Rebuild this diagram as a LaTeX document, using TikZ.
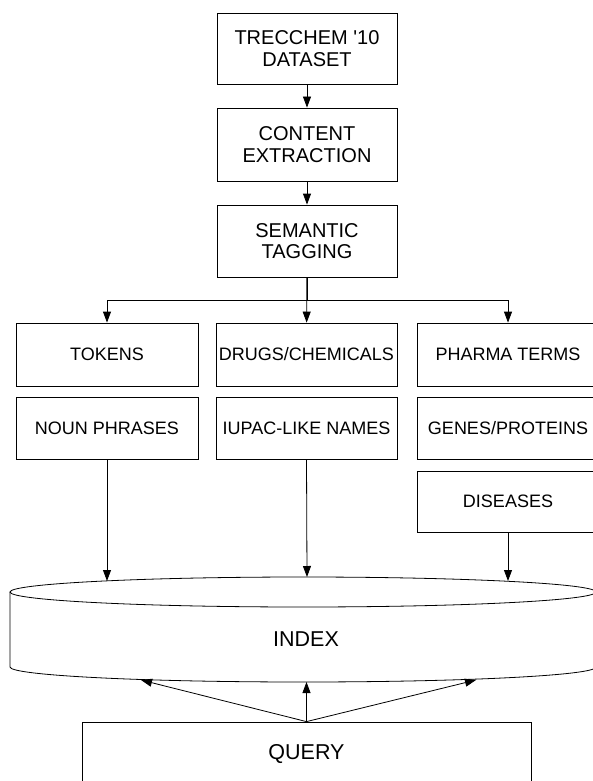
\documentclass[tikz,border=0pt]{standalone}
\usepackage{fontspec}
\setmainfont{Liberation Sans}
\usetikzlibrary{arrows.meta}

\begin{document}
\begin{tikzpicture}[x=1pt,y=-1pt,
    box/.style={draw,line width=0.8pt,inner sep=1pt,align=center,
      font=\fontsize{18}{21.5}\selectfont},
    bigbox/.style={box,font=\fontsize{20}{21.7}\selectfont},
    arr/.style={-{Triangle[length=11pt,width=8pt]},line width=0.8pt}]
    \useasboundingbox (0,0) rectangle (593,781);
    \clip (0,0) rectangle (593,781);
    % pipeline
    \node[bigbox,minimum width=180pt,minimum height=71pt] (data) at (307,48.5) {TRECCHEM \textquotesingle10\\DATASET};
    \node[bigbox,minimum width=180pt,minimum height=73pt] (extract) at (307,144.5) {CONTENT\\EXTRACTION};
    \node[bigbox,minimum width=180pt,minimum height=72pt] (tag) at (307,241) {SEMANTIC\\TAGGING};
    % tag boxes
    \node[box,minimum width=182pt,minimum height=63pt] (tokens) at (107,354.5) {TOKENS};
    \node[box,minimum width=181pt,minimum height=63pt] (drugs) at (306.5,354.5) {DRUGS/CHEMICALS};
    \node[box,minimum width=182pt,minimum height=63pt] (pharma) at (508,354.5) {PHARMA TERMS};
    \node[box,minimum width=182pt,minimum height=62pt] (noun) at (107,428) {NOUN PHRASES};
    \node[box,minimum width=181pt,minimum height=62pt] (iupac) at (306.5,428) {IUPAC-LIKE NAMES};
    \node[box,minimum width=182pt,minimum height=62pt] (genes) at (508,428) {GENES/PROTEINS};
    \node[box,minimum width=182pt,minimum height=61pt] (diseases) at (508,501.5) {DISEASES};
    % index
    \draw[line width=0.8pt] (303,592) ellipse [x radius=293, y radius=15];
    \draw[line width=0.8pt] (10,592) -- (10,667)
      arc[start angle=180, end angle=0, x radius=293, y radius=15] -- (596,592);
    \node[font=\fontsize{21.5}{24}\selectfont] (index) at (306,639) {INDEX};
    \coordinate (inL) at (107,581);
    \coordinate (inM) at (307,577);
    \coordinate (inR) at (508,581);
    \coordinate (outL) at (141,680);
    \coordinate (outM) at (306.5,682);
    \coordinate (outR) at (476,680);
    \node[box,font=\fontsize{21.5}{24}\selectfont,minimum width=449pt,minimum height=64pt] (query) at (306.5,754) {QUERY};
    % arrows
    \draw[arr] (data) -- (extract);
    \draw[arr] (extract) -- (tag);
    \draw[arr] (tag.south) -- ++(0,23) -| (tokens.north);
    \draw[arr] (tag.south) -- ++(0,23) -| (pharma.north);
    \draw[arr] (tag) -- (drugs);
    \draw[arr] (noun) -- (inL);
    \draw[arr] (iupac.south) -- (inM);
    \draw[arr] (diseases.south) -- (inR);
    \draw[arr] (query.north) -- (outL);
    \draw[arr] (query.north) -- (outM);
    \draw[arr] (query.north) -- (outR);
\end{tikzpicture}
\end{document}
